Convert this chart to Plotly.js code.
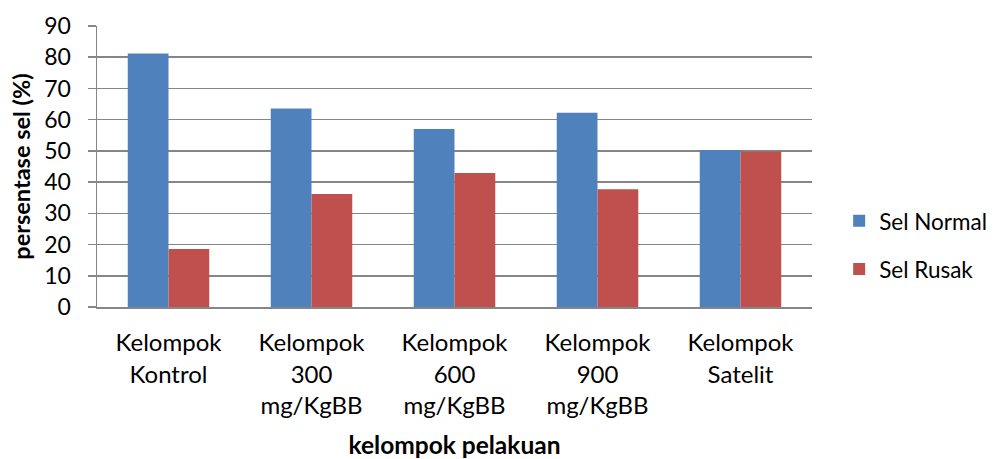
<!DOCTYPE html>
<html>
<head>
<meta charset="utf-8">
<script src="https://cdn.plot.ly/plotly-3.0.1.min.js"></script>
<style>html,body{margin:0;padding:0;background:#fff;}#chart{width:997px;height:459px;}</style>
</head>
<body>
<div id="chart"></div>
<script>
var categories = ["Kelompok<br>Kontrol", "Kelompok<br>300<br>mg/KgBB", "Kelompok<br>600<br>mg/KgBB", "Kelompok<br>900<br>mg/KgBB", "Kelompok<br>Satelit"];
var selNormal = [81.2, 63.6, 57.0, 62.2, 50.3];
var selRusak = [18.6, 36.2, 42.9, 37.7, 49.8];
var yTicks = [0, 10, 20, 30, 40, 50, 60, 70, 80, 90];

var FONT = "Lato, 'Open Sans', sans-serif";
var data = [
  {type: "bar", name: "Sel Normal", x: categories, y: selNormal, legendgroup: "a",
   marker: {color: "#4F81BD", line: {width: 0}}},
  {type: "bar", name: "Sel Rusak", x: categories, y: selRusak, legendgroup: "b",
   marker: {color: "#C0504D", line: {width: 0}}}
];
var layout = {
  width: 997, height: 459,
  margin: {l: 97, r: 185, t: 26, b: 152, autoexpand: false},
  paper_bgcolor: "#fff", plot_bgcolor: "#fff",
  font: {family: FONT, size: 22, color: "#000"},
  barmode: "group", bargap: 0.43, bargroupgap: 0,
  xaxis: {
    tickfont: {family: FONT, size: 24, color: "#000"},
    showline: true, linecolor: "#868686", linewidth: 1.5,
    ticks: "", ticklabelstandoff: 14,
    automargin: false,
    title: {text: "<b>kelompok pelakuan</b>", font: {family: FONT, size: 24.5, color: "#000"}, standoff: 32},
    fixedrange: true
  },
  yaxis: {
    range: [0, 90], tickvals: yTicks, ticktext: yTicks.map(String),
    tickfont: {family: FONT, size: 23, color: "#000"},
    showgrid: true, gridcolor: "#868686", gridwidth: 1.5,
    showline: true, linecolor: "#868686", linewidth: 1.5,
    ticks: "outside", ticklen: 8, tickcolor: "#868686", tickwidth: 1.5,
    ticklabelstandoff: 12,
    zeroline: false, automargin: false,
    title: {text: "<b>persentase sel (%)</b>", font: {family: FONT, size: 23.5, color: "#000"}, standoff: 7},
    fixedrange: true
  },
  legend: {
    x: 1.038, xanchor: "left", y: 0.22, yanchor: "middle",
    font: {family: FONT, size: 22.5, color: "#000"},
    traceorder: "grouped", tracegroupgap: 16,
    bgcolor: "rgba(0,0,0,0)"
  },
  showlegend: true
};
Plotly.newPlot("chart", data, layout, {displayModeBar: false, staticPlot: true});
</script>
</body>
</html>
